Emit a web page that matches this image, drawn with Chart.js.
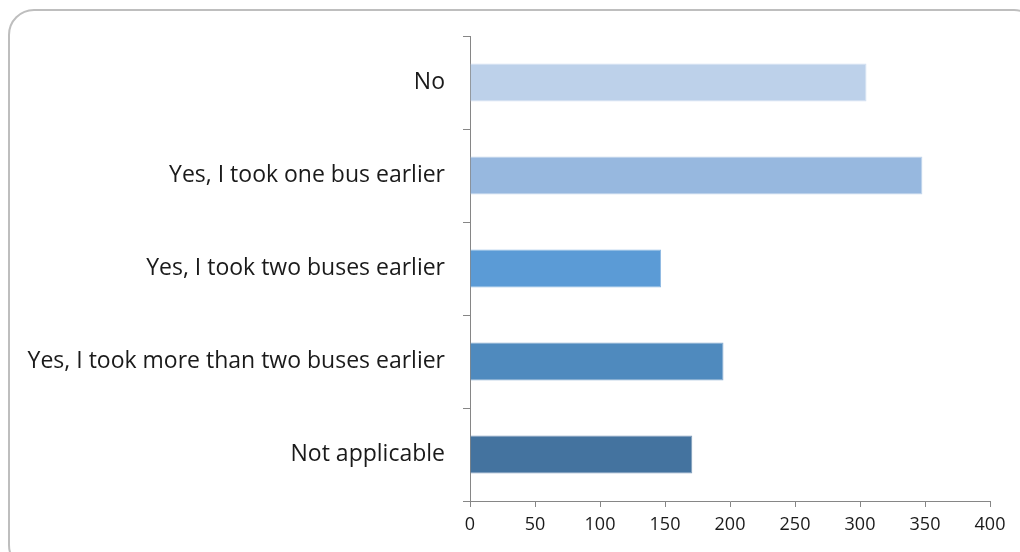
<!DOCTYPE html>
<html>
<head>
<meta charset="utf-8">
<script src="https://cdn.jsdelivr.net/npm/chart.js@4/dist/chart.umd.min.js"></script>
<style>
  html, body { margin: 0; padding: 0; background: #ffffff; }
  #wrap { width: 1020px; height: 552px; position: relative; }
</style>
</head>
<body>
<div id="wrap"><canvas id="chart" width="1020" height="552"></canvas></div>
<script>
// Survey answers and counts
const categories = [
  'No',
  'Yes, I took one bus earlier',
  'Yes, I took two buses earlier',
  'Yes, I took more than two buses earlier',
  'Not applicable'
];
const counts = [305, 348, 147, 195, 171];
const barColors = ['#BDD1EA', '#97B8DF', '#5B9BD6', '#4F8ABE', '#44739F'];
const barEdges = ['#D3E0F1', '#C2D5EC', '#8DB9E3', '#86ABD0', '#7F9CBA'];
const xTicks = [0, 50, 100, 150, 200, 250, 300, 350, 400];

// Rounded panel behind the plot
const panel = {
  id: 'panel',
  beforeDraw(chart) {
    const c = chart.ctx;
    c.save();
    c.fillStyle = '#ffffff';
    c.fillRect(0, 0, chart.width, chart.height);
    c.strokeStyle = '#BEBEBE';
    c.lineWidth = 2;
    c.beginPath();
    c.roundRect(9, 10, 1030, 560, 25);
    c.stroke();
    c.restore();
  }
};

new Chart(document.getElementById('chart'), {
  type: 'bar',
  data: {
    labels: categories,
    datasets: [{
      data: counts,
      backgroundColor: barColors,
      borderColor: barEdges,
      borderWidth: 1,
      borderSkipped: 'start',
      categoryPercentage: 0.82,
      barPercentage: 0.5
    }]
  },
  plugins: [panel],
  options: {
    indexAxis: 'y',
    responsive: false,
    animation: false,
    layout: { padding: { top: 36, right: 30, left: 0, bottom: 0 } },
    plugins: { legend: { display: false }, tooltip: { enabled: false } },
    scales: {
      x: {
        min: 0,
        max: 400,
        afterBuildTicks(scale) { scale.ticks = xTicks.map(v => ({ value: v })); },
        afterFit(scale) { scale.height = 51; },
        border: { color: '#868686', width: 1 },
        grid: { drawOnChartArea: false, color: '#868686', tickLength: 6 },
        ticks: {
          color: '#1A1A1A',
          padding: 7,
          font: { family: 'Open Sans', size: 18 }
        }
      },
      y: {
        afterFit(scale) { scale.width = 470; },
        border: { color: '#868686', width: 1 },
        grid: { drawOnChartArea: false, color: '#868686', tickLength: 7, offset: true },
        ticks: {
          color: '#1A1A1A',
          padding: 18,
          font: { family: 'Open Sans', size: 23 }
        }
      }
    }
  }
});
</script>
</body>
</html>
